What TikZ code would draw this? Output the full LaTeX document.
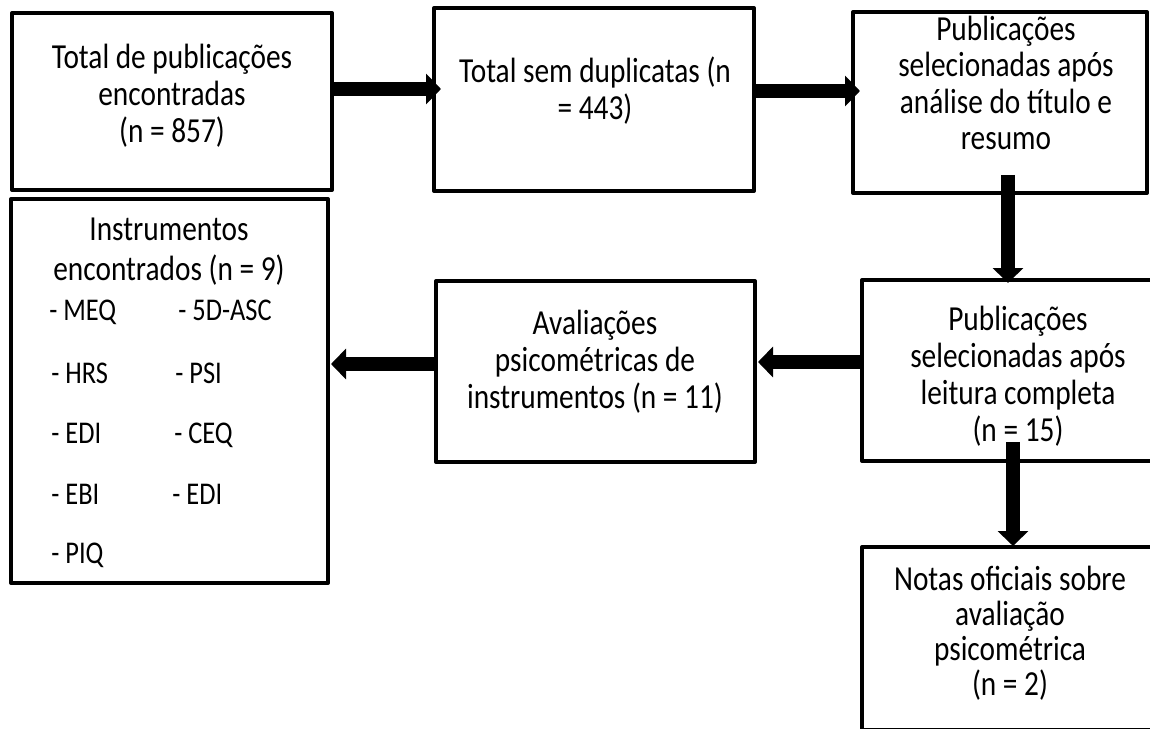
\documentclass[tikz,border=0pt]{standalone}
\usepackage{fontspec}
\setmainfont{Carlito}[FakeStretch=0.835]
\usetikzlibrary{arrows.meta,fit}
\begin{document}
\begin{tikzpicture}[x=0.02cm,y=-0.02cm,
  box/.style={draw=black,line width=0.08cm,line join=round,inner sep=0pt,outer sep=0pt},
  txt/.style={align=center,inner sep=0pt,font=\fontsize{20pt}{21pt}\selectfont},
  item/.style={anchor=base west,inner sep=0pt,font=\fontsize{18pt}{20pt}\selectfont},
  arr/.style={line width=0.28cm,-{Triangle[width=0.6cm,length=0.3cm]}}]
\fill[white] (0,0) rectangle (1150,729);
\useasboundingbox (0,0) rectangle (1150,729);
\clip (0,0) rectangle (1150,729);

% boxes
\node[box,fit={(12,13)(332,190)}] (b1) {};
\node[box,fit={(434,8)(754,191)}] (b2) {};
\node[box,fit={(853,12)(1147,193)}] (b3) {};
\node[box,fit={(11,199)(328,583)}] (b4) {};
\node[box,fit={(436,281)(755,462)}] (b5) {};
\node[box,fit={(862,280)(1180,461)}] (b6) {};
\node[box,fit={(862,547)(1180,730)}] (b7) {};

% box texts
\node[txt] (t1) at (172,96) {Total de publicações\\encontradas\\(n = 857)};
\node[txt] (t2) at (595,91) {Total sem duplicatas (n\\= 443)};
\node[txt,font=\fontsize{20pt}{20.6pt}\selectfont] (t3) at (1006,83) {Publicações\\selecionadas após\\análise do título e\\resumo};
\node[txt,font=\fontsize{20pt}{22.8pt}\selectfont] (t4) at (169,252) {Instrumentos\\encontrados (n = 9)};
\node[txt] (t5) at (595,362) {Avaliações\\psicométricas de\\instrumentos (n = 11)};
\node[txt] (t6) at (1018,376) {Publicações\\selecionadas após\\leitura completa\\(n = 15)};
\node[txt,font=\fontsize{20pt}{20pt}\selectfont] (t7) at (1010,633) {Notas oficiais sobre\\avaliação\\psicométrica\\(n = 2)};

% instrument list
\node[item] (m1) at (49,321) {- MEQ};
\node[item] (m2) at (178,321) {- 5D-ASC};
\node[item] (m3) at (51,384) {- HRS};
\node[item] (m4) at (175,384) {- PSI};
\node[item] (m5) at (51,444) {- EDI};
\node[item] (m6) at (174,444) {- CEQ};
\node[item] (m7) at (51,504) {- EBI};
\node[item] (m8) at (172,504) {- EDI};
\node[item] (m9) at (51,563) {- PIQ};

% connectors
\coordinate (h1) at (441,89);
\draw[arr] (b1.east |- h1) -- (h1);
\coordinate (h2) at (860,91);
\draw[arr] (b2.east |- h2) -- (h2);
\coordinate (s3) at (1008,175);
\coordinate (h3) at (1008,283);
\draw[arr] (s3) -- (h3);
\coordinate (h4) at (758,362);
\draw[arr] (b6.west |- h4) -- (h4);
\coordinate (h5) at (331,364);
\draw[arr] (b5.west |- h5) -- (h5);
\coordinate (s6) at (1013,442);
\coordinate (h6) at (1013,546);
\draw[arr] (s6) -- (h6);
\end{tikzpicture}
\end{document}
